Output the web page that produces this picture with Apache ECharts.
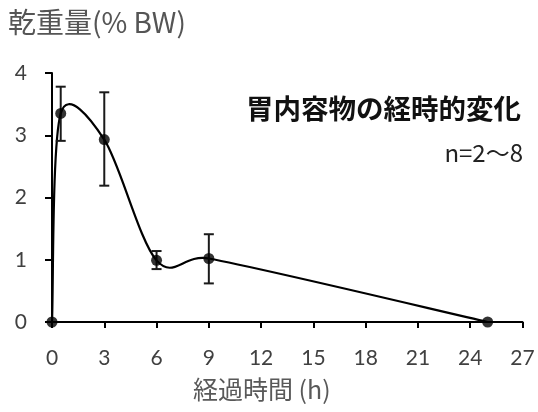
<!DOCTYPE html>
<html><head><meta charset="utf-8">
<script src="https://cdn.jsdelivr.net/npm/echarts@6/dist/echarts.min.js"></script>
<style>html,body{margin:0;padding:0;background:#fff}#c{width:538px;height:412px}</style>
</head><body><div id="c"></div>
<script>
var hours = [0, 0.5, 3, 6, 9, 25];
var dryWeight = [0, 3.35, 2.93, 0.99, 1.02, 0];
var errX = [0.5, 3, 6, 9];
var errLow = [2.91, 2.19, 0.85, 0.62];
var errHigh = [3.78, 3.69, 1.14, 1.41];
var xTicks = [0, 3, 6, 9, 12, 15, 18, 21, 24, 27];
var yTicks = [0, 1, 2, 3, 4];
var yTitle = '乾重量(% BW)';
var xTitle = '経過時間 (h)';
var noteTitle = '胃内容物の経時的変化';
var noteN = 'n=2〜8';

var pts = hours.map(function(h, i){ return [h, dryWeight[i]]; });
var cjk = '"Noto Sans CJK JP", "Noto Sans", sans-serif';
var num = 'Lato, "Noto Sans", sans-serif';

function smoothPath(P){
  // Excel-like smoothed line (Bezier with 1/6 tension, capped at half segment)
  var n = P.length, d = 'M' + P[0][0] + ' ' + P[0][1];
  function tan(i, segLen){
    var a = P[Math.max(i-1,0)], b = P[Math.min(i+1,n-1)];
    var vx = (b[0]-a[0])/6, vy = (b[1]-a[1])/6;
    var m = Math.sqrt(vx*vx+vy*vy);
    if (m > segLen/2 && m > 0){ var s = (segLen/2)/m; vx*=s; vy*=s; }
    return [vx, vy];
  }
  for (var i = 0; i < n-1; i++){
    var p0 = P[i], p1 = P[i+1];
    var L = Math.sqrt(Math.pow(p1[0]-p0[0],2)+Math.pow(p1[1]-p0[1],2));
    var t0 = tan(i, L), t1 = tan(i+1, L);
    d += ' C' + (p0[0]+t0[0]) + ' ' + (p0[1]+t0[1]) + ' ' + (p1[0]-t1[0]) + ' ' + (p1[1]-t1[1]) + ' ' + p1[0] + ' ' + p1[1];
  }
  return d;
}

var chart = echarts.init(document.getElementById('c'));
chart.setOption({
  animation: false,
  backgroundColor: '#fff',
  grid: {left: 52, right: 15.5, top: 73, bottom: 90, containLabel: false},
  xAxis: {
    type: 'value', min: 0, max: 27, interval: 3,
    axisLine: {show: true, onZero: false, lineStyle: {color: '#000', width: 2}},
    axisTick: {show: true, inside: false, length: 6, lineStyle: {color: '#000', width: 2}},
    axisLabel: {color: '#404040', fontSize: 21, fontFamily: num, margin: 26,
      formatter: function(v){ return xTicks.indexOf(v) >= 0 ? String(v) : ''; }},
    splitLine: {show: false}
  },
  yAxis: {
    type: 'value', min: 0, max: 4, interval: 1,
    axisLine: {show: true, onZero: false, lineStyle: {color: '#000', width: 2}},
    axisTick: {show: true, inside: false, length: 7, lineStyle: {color: '#000', width: 2}},
    axisLabel: {color: '#404040', fontSize: 21, fontFamily: num, margin: 25,
      formatter: function(v){ return yTicks.indexOf(v) >= 0 ? String(v) : ''; }},
    splitLine: {show: false}
  },
  graphic: [
    {type: 'text', left: 8, top: 8, style: {text: yTitle, fill: '#555', font: '28px ' + cjk}},
    {type: 'text', right: 17, top: 95, style: {text: noteTitle, fill: '#111', font: 'bold 27.5px ' + cjk}},
    {type: 'text', right: 15, top: 141, style: {text: noteN, fill: '#222', font: '24px ' + cjk}},
    {type: 'text', left: 193, top: 377, style: {text: xTitle, fill: '#595959', font: '25px ' + cjk}}
  ],
  series: [
    {
      type: 'custom', z: 2, clip: false,
      data: pts,
      renderItem: function(params, api){
        if (params.dataIndex !== 0) return null;
        var P = pts.map(function(p){ return api.coord(p); });
        return {type: 'path', shape: {pathData: smoothPath(P)},
          style: {fill: 'none', stroke: '#000', lineWidth: 2.2}};
      }
    },
    {
      type: 'custom', z: 3, clip: false,
      data: errX.map(function(x, i){ return [x, errLow[i], errHigh[i]]; }),
      renderItem: function(params, api){
        var lo = api.coord([api.value(0), api.value(1)]);
        var hi = api.coord([api.value(0), api.value(2)]);
        var w = 5;
        var st = {stroke: '#1a1a1a', lineWidth: 2};
        return {type: 'group', children: [
          {type: 'line', shape: {x1: lo[0], y1: lo[1], x2: hi[0], y2: hi[1]}, style: st},
          {type: 'line', shape: {x1: lo[0]-w, y1: lo[1], x2: lo[0]+w, y2: lo[1]}, style: st},
          {type: 'line', shape: {x1: hi[0]-w, y1: hi[1], x2: hi[0]+w, y2: hi[1]}, style: st}
        ]};
      }
    },
    {
      type: 'scatter', z: 4, data: pts, symbol: 'circle', symbolSize: 11,
      itemStyle: {color: '#000'}, clip: false
    }
  ]
});
</script></body></html>
